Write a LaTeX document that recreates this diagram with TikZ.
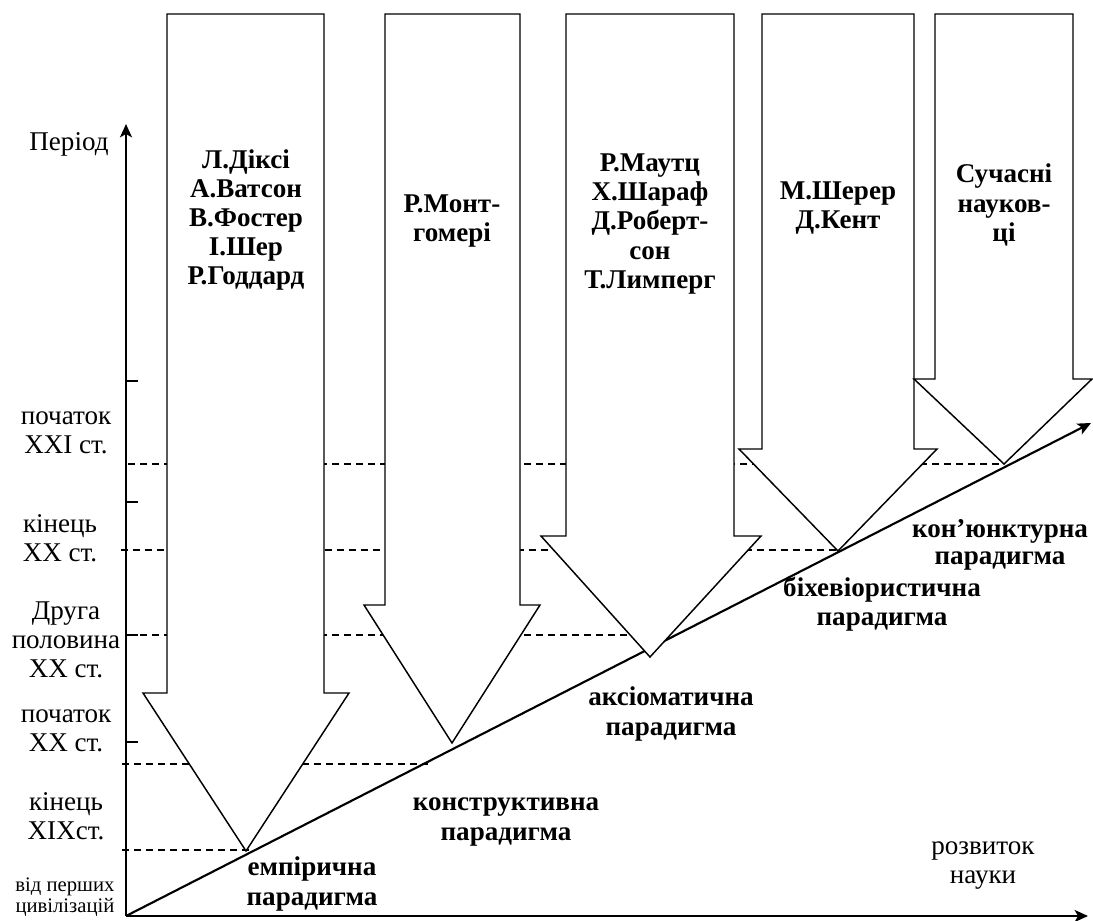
\documentclass[tikz,border=0pt]{standalone}
\usepackage{fontspec}
\setmainfont{Liberation Serif}
\usetikzlibrary{arrows.meta}
\begin{document}
\begin{tikzpicture}[x=0.75pt,y=-0.75pt,
  blk/.style={draw=black,fill=white,line width=1.1pt,line join=miter},
  axis/.style={line width=1.6pt},
  guide/.style={line width=1pt,dash pattern=on 5pt off 4pt},
  tickmark/.style={line width=1.3pt},
  lbl/.style={font=\fontsize{20.3}{21.8}\selectfont,align=center,inner sep=0pt},
  bold/.style={font=\fontsize{20.3}{21.8}\selectfont\bfseries,align=center,inner sep=0pt},
  small/.style={font=\fontsize{15.5}{15.8}\selectfont,align=center,inner sep=0pt},
  tip/.style={-{Stealth[length=10pt,width=9pt,inset=2.5pt]}}]
\useasboundingbox (0,0) rectangle (1093,921);

% axes origin and ends
\coordinate (O) at (126,916);
\coordinate (Ytop) at (126,124);
\coordinate (Xend) at (1088,916);
\coordinate (Dend) at (1091,423);

% period guide lines (drawn first, hidden under the block arrows)
\draw[guide] (128,464) -- (1004,464);
\draw[guide] (121,550) -- (838,550);
\draw[guide] (128,635) -- (650,635);
\draw[guide] (122,764) -- (428,764);
\draw[guide] (122,850) -- (253,850);

% development line
\draw[axis,tip] (O) -- (Dend);

% block arrows, one per paradigm
\draw[blk] (167,14) -- (324,14) -- (324,693) -- (349,693) -- (246,851) -- (143,693) -- (167,693) -- cycle;
\draw[blk] (385,14) -- (520,14) -- (520,605) -- (540,605) -- (452,743) -- (364,605) -- (385,605) -- cycle;
\draw[blk] (566,14) -- (734,14) -- (734,536) -- (761,536) -- (650,657) -- (541,536) -- (566,536) -- cycle;
\draw[blk] (762,14) -- (914,14) -- (914,449) -- (937,449) -- (838,551) -- (739,449) -- (762,449) -- cycle;
\draw[blk] (935,14) -- (1073,14) -- (1073,379) -- (1092,379) -- (1004,464) -- (914,379) -- (935,379) -- cycle;

% axes
\draw[axis,tip] (O) -- (Ytop);
\draw[axis,tip] (O) -- (Xend);
\foreach \yy in {381,502,635,742} \draw[tickmark] (126,\yy) -- (138,\yy);

% period labels
\node[lbl] (period) at (69,144) {Період};
\node[lbl] (c21) at (66,433) {початок\\XXI ст.};
\node[lbl] (e20) at (60,538) {кінець\\XX ст.};
\node[lbl] (h20) at (66,640) {Друга\\половина\\XX ст.};
\node[lbl] (s20) at (66,731) {початок\\XX ст.};
\node[lbl] (e19) at (66,816) {кінець\\XIXст.};
\node[small] (civ) at (65,897) {від перших\\цивілізацій};

% scholars
\node[bold] (g1) at (246,220) {Л.Діксі\\А.Ватсон\\В.Фостер\\І.Шер\\Р.Годдард};
\node[bold] (g2) at (452,221) {Р.Монт-\\гомері};
\node[bold] (g3) at (650,224) {Р.Маутц\\Х.Шараф\\Д.Роберт-\\сон\\Т.Лимперг};
\node[bold] (g4) at (838,208) {М.Шерер\\Д.Кент};
\node[bold] (g5) at (1004,205) {Сучасні\\науков-\\ці};

% paradigms
\node[bold] (p1) at (312,884) {емпірична\\парадигма};
\node[bold] (p2) at (506,822) {конструктивна\\парадигма};
\node[bold] (p3) at (671,714) {аксіоматична\\парадигма};
\node[bold] (p4) at (882,604) {біхевіористична\\парадигма};
\node[bold,font=\fontsize{20.3}{20.3}\selectfont\bfseries] (p5) at (1000,545) {кон’юнктурна\\парадигма};
\node[lbl] (dev) at (983,866) {розвиток\\науки};
\end{tikzpicture}
\end{document}
